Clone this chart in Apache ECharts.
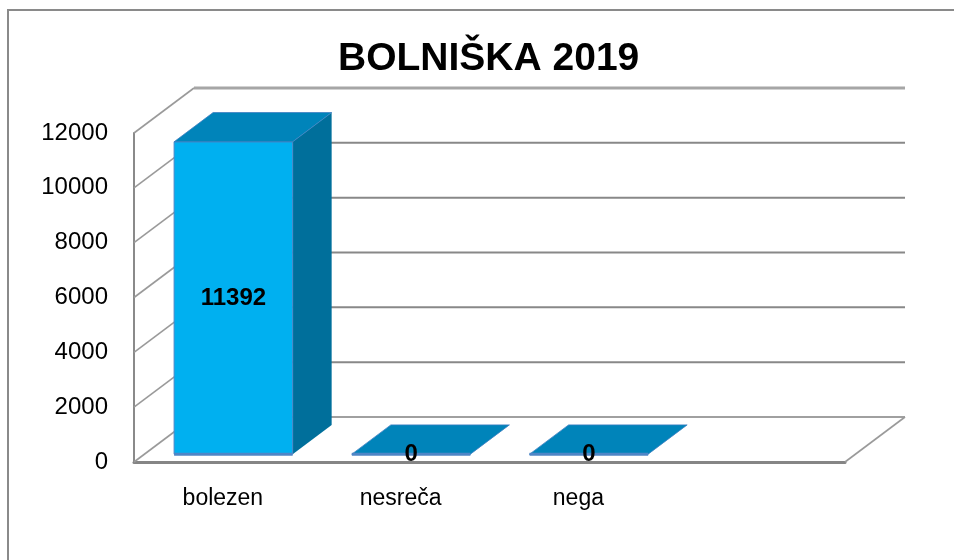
<!DOCTYPE html>
<html>
<head>
<meta charset="utf-8">
<script src="https://cdn.jsdelivr.net/npm/echarts@6/dist/echarts.min.js"></script>
<style>
html,body{margin:0;padding:0;background:#fff;}
#chart{width:954px;height:560px;}
</style>
</head>
<body>
<div id="chart"></div>
<script>
// ---- data ----
const titleText = 'BOLNIŠKA 2019';
const categories = ['bolezen', 'nesreča', 'nega', ''];
const values = [11392, 0, 0];
const yTicks = [0, 2000, 4000, 6000, 8000, 10000, 12000];

// ---- style constants ----
const FONT = 'Liberation Sans';
const DX = 60, DY = -45;          // depth offset of back wall
const F1 = 0.175, F2 = 0.825;     // bar depth span (fraction of full depth)
const BAR_RATIO = 0.667;

const chart = echarts.init(document.getElementById('chart'), null, {renderer: 'canvas'});

const option = {
  backgroundColor: '#ffffff',
  animation: false,
  title: {
    text: titleText,
    left: 333,
    top: 35,
    textStyle: {fontFamily: FONT, fontWeight: 'bold', fontSize: 39, color: '#000'}
  },
  graphic: [{
    type: 'rect',
    shape: {x: 8, y: 10, width: 980, height: 600},
    style: {fill: 'none', stroke: '#8a8a8a', lineWidth: 2},
    silent: true
  }],
  grid: {left: 134, top: 133, width: 711, height: 329},
  xAxis: {
    type: 'category',
    data: categories,
    boundaryGap: true,
    axisLine: {show: true, lineStyle: {color: '#858585', width: 3}},
    axisTick: {show: false},
    axisLabel: {fontFamily: FONT, fontSize: 23, color: '#000', margin: 25},
    splitLine: {show: false}
  },
  yAxis: {
    type: 'value',
    min: 0, max: 12000, interval: 2000,
    axisLine: {show: true, lineStyle: {color: '#8a8a8a', width: 2}},
    axisTick: {show: false},
    axisLabel: {fontFamily: FONT, fontSize: 24, color: '#000', margin: 26,
      formatter: function (v) { return String(v); }},
    splitLine: {show: false}
  },
  series: [
    {
      type: 'custom',
      name: 'walls',
      z: 1,
      silent: true,
      clip: false,
      data: yTicks.map(v => [0, v]),
      encode: {x: 0, y: 1},
      renderItem: function (params, api) {
        const v = api.value(1);
        const cs = params.coordSys;
        const y = api.coord([0, v])[1];
        const x0 = cs.x, x1 = cs.x + cs.width;
        const top = v === yTicks[yTicks.length - 1];
        const children = [
          {type: 'line', shape: {x1: x0 + DX, y1: y + DY, x2: x1 + DX, y2: y + DY},
           style: {stroke: top ? '#a6a6a6' : (v === 0 ? '#a0a0a0' : '#888888'), lineWidth: top ? 3 : 2}},
          {type: 'line', shape: {x1: x0, y1: y, x2: x0 + DX, y2: y + DY},
           style: {stroke: '#9a9a9a', lineWidth: 1.6}}
        ];
        if (v === 0) {
          children.push({type: 'line', shape: {x1: x1, y1: y, x2: x1 + DX, y2: y + DY},
            style: {stroke: '#9a9a9a', lineWidth: 1.6}});
        }
        return {type: 'group', children: children};
      }
    },
    {
      type: 'custom',
      name: 'bars',
      z: 3,
      clip: false,
      data: values.map((v, i) => [i, v]),
      encode: {x: 0, y: 1},
      renderItem: function (params, api) {
        const i = api.value(0), v = api.value(1);
        const p0 = api.coord([i, 0]);
        const p1 = api.coord([i, v]);
        const band = api.size([1, 0])[0];
        const w = band * BAR_RATIO;
        const xl = p0[0] - w / 2, xr = p0[0] + w / 2;
        const ax = DX * F1, ay = DY * F1, bx = DX * F2, by = DY * F2;
        const yb = p0[1], yt = p1[1];
        const children = [];
        // side face
        children.push({type: 'polygon', shape: {points: [
          [xr + ax, yt + ay], [xr + bx, yt + by], [xr + bx, yb + by], [xr + ax, yb + ay]
        ]}, style: {fill: '#006f9b'}});
        // front face
        children.push({type: 'rect', shape: {x: xl + ax, y: yt + ay, width: w, height: yb - yt},
          style: {fill: '#00b0f0', stroke: '#4a86c8', lineWidth: 1}});
        // top face
        children.push({type: 'polygon', shape: {points: [
          [xl + ax, yt + ay], [xr + ax, yt + ay], [xr + bx, yt + by], [xl + bx, yt + by]
        ]}, style: {fill: '#0084ba', stroke: '#3f7fc2', lineWidth: 0.8}});
        // front bottom edge
        children.push({type: 'line', shape: {x1: xl + ax, y1: yb + ay, x2: xr + ax, y2: yb + ay},
          style: {stroke: '#4f86c6', lineWidth: 3}});
        // label
        children.push({type: 'text', x: xl + ax + w / 2, y: (yb + yt) / 2 + ay,
          style: {text: String(v), fontFamily: FONT, fontWeight: 'bold', fontSize: 24,
            fill: '#000', align: 'center', verticalAlign: 'middle'}, z2: 10});
        return {type: 'group', children: children};
      }
    }
  ]
};
chart.setOption(option);
</script>
</body>
</html>
